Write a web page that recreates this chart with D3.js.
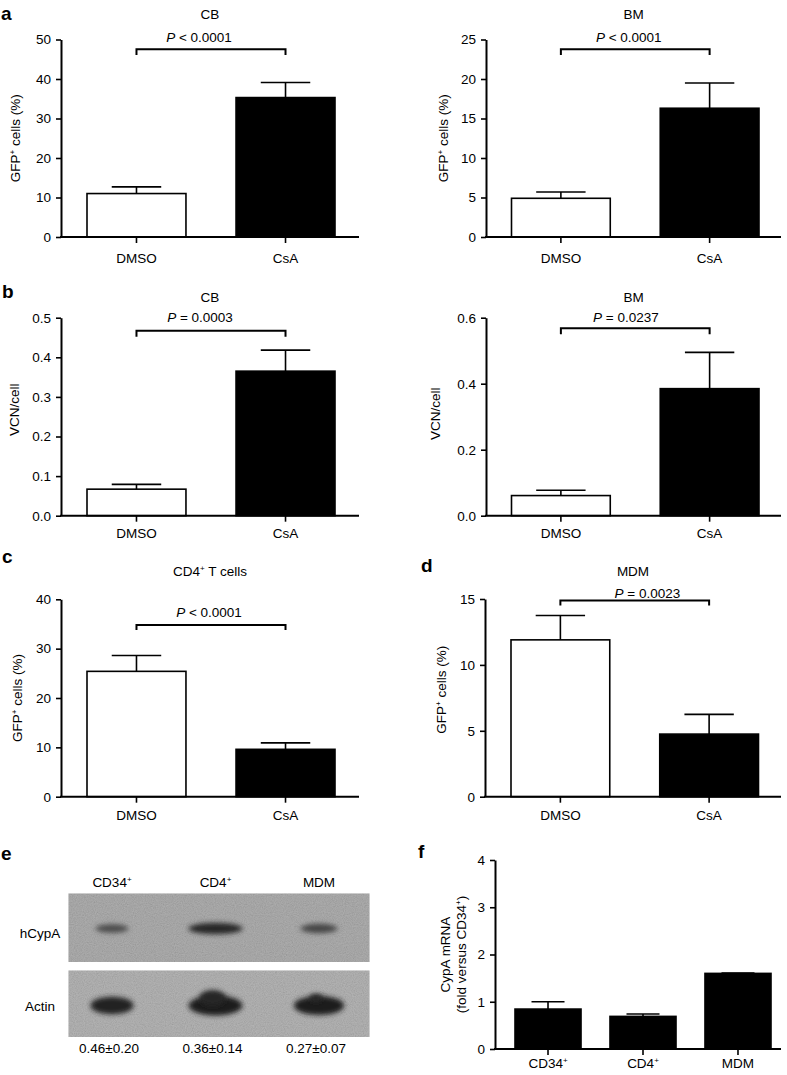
<!DOCTYPE html>
<html><head><meta charset="utf-8">
<script src="https://cdn.jsdelivr.net/npm/d3@7"></script>
<style>
body{margin:0;background:#fff}
svg{display:block;font-family:"Liberation Sans",Arial,Helvetica,sans-serif}
</style></head><body>
<svg id="fig" width="787" height="1075"></svg>
<script>
// ---------------- DATA ----------------
const treatments = ["DMSO", "CsA"];
const cbGFPMean = [11.0, 35.3];   const cbGFPSem = [1.7, 3.8];
const bmGFPMean = [4.9, 16.3];    const bmGFPSem = [0.8, 3.2];
const cbVCNMean = [0.067, 0.365]; const cbVCNSem = [0.012, 0.053];
const bmVCNMean = [0.061, 0.385]; const bmVCNSem = [0.016, 0.11];
const cd4GFPMean = [25.4, 9.6];   const cd4GFPSem = [3.2, 1.3];
const mdmGFPMean = [11.9, 4.75];  const mdmGFPSem = [1.85, 1.5];
const cellTypes = ["CD34^+", "CD4^+", "MDM"];
const cypaMRNAMean = [0.845, 0.69, 1.6]; const cypaMRNASem = [0.155, 0.05, 0.01];
const blotQuant = ["0.46±0.20", "0.36±0.14", "0.27±0.07"];
const hCypASignal = [0.45, 1.0, 0.55];
const actinSignal = [0.72, 1.0, 0.9];
const actinShoulder = [0, 1, 0.5];
const ticksCbGFP = [0, 10, 20, 30, 40, 50];
const ticksBmGFP = [0, 5, 10, 15, 20, 25];
const ticksCbVCN = [0, 0.1, 0.2, 0.3, 0.4, 0.5];
const ticksBmVCN = [0, 0.2, 0.4, 0.6];
const ticksCd4 = [0, 10, 20, 30, 40];
const ticksMdm = [0, 5, 10, 15];
const ticksCypA = [0, 1, 2, 3, 4];
const pLabels = ["< 0.0001", "< 0.0001", "= 0.0003", "= 0.0237", "< 0.0001", "= 0.0023"];

// ---------------- HELPERS ----------------
const svg = d3.select("#fig");
const FS = 13.5;

function rich(t, s) {
  const re = /\^(.)/g; let last = 0, m; const segs = [];
  while ((m = re.exec(s))) {
    if (m.index > last) segs.push({t: s.slice(last, m.index), sup: false});
    segs.push({t: m[1], sup: true}); last = re.lastIndex;
  }
  if (last < s.length) segs.push({t: s.slice(last), sup: false});
  let shifted = false;
  segs.forEach(sg => {
    const ts = t.append("tspan").text(sg.t);
    if (sg.sup) { ts.attr("dy", -5).attr("font-size", "0.6em"); shifted = true; }
    else if (shifted) { ts.attr("dy", 5); shifted = false; }
  });
  return t;
}

function letter(l, x, y) {
  svg.append("text").attr("x", x).attr("y", y).attr("font-size", 19)
    .attr("font-weight", "bold").text(l);
}

function barPanel(c) {
  const g = svg.append("g");
  const y = d3.scaleLinear().domain([0, c.max]).range([c.yBot, c.yTop]);
  const x = d3.scaleBand().domain(c.cats).range([c.x0 + c.bandL, c.x0 + c.bandR])
    .paddingInner(c.pad).paddingOuter(0);
  const bw = x.bandwidth();
  g.selectAll("rect.bar").data(c.cats).join("rect").attr("class", "bar")
    .attr("x", d => x(d)).attr("y", (d, i) => y(c.mean[i]))
    .attr("width", bw).attr("height", (d, i) => y(0) - y(c.mean[i]))
    .attr("fill", (d, i) => c.fills[i]).attr("stroke", "#000").attr("stroke-width", 1.6);
  const eb = g.selectAll("g.eb").data(c.cats).join("g").attr("class", "eb")
    .attr("stroke", "#000").attr("stroke-width", 1.6);
  eb.append("line").attr("x1", d => x(d) + bw / 2).attr("x2", d => x(d) + bw / 2)
    .attr("y1", (d, i) => y(c.mean[i])).attr("y2", (d, i) => y(c.mean[i] + c.sem[i]));
  eb.append("line").attr("x1", d => x(d) + bw / 4).attr("x2", d => x(d) + 3 * bw / 4)
    .attr("y1", (d, i) => y(c.mean[i] + c.sem[i])).attr("y2", (d, i) => y(c.mean[i] + c.sem[i]));
  const ya = g.append("g").attr("transform", `translate(${c.x0},0)`)
    .call(d3.axisLeft(y).tickValues(c.ticks).tickFormat(c.fmt).tickSize(5).tickPadding(5).tickSizeOuter(0));
  ya.select(".domain").attr("stroke-width", 2);
  ya.selectAll(".tick line").attr("stroke-width", 1.6);
  ya.selectAll("text").attr("font-size", FS).attr("font-family", null).attr("fill", "#000");
  g.append("line").attr("x1", c.x0 - 1).attr("x2", c.x1).attr("y1", y(0)).attr("y2", y(0))
    .attr("stroke", "#000").attr("stroke-width", 2);
  const xa = g.append("g").attr("transform", `translate(0,${y(0)})`)
    .call(d3.axisBottom(x).tickSize(6).tickPadding(c.xPad).tickSizeOuter(0));
  xa.select(".domain").remove();
  xa.selectAll(".tick line").attr("stroke-width", 1.6);
  xa.selectAll("text").attr("font-size", FS).attr("font-family", null).attr("fill", "#000")
    .text(null).each(function(d) { rich(d3.select(this), d); });
  const yc = (c.yTop + c.yBot) / 2 + (c.ylabDy || 0);
  c.ylabel.forEach((lab, k) => {
    const t = g.append("text").attr("transform", `translate(${c.ylabX[k]},${yc}) rotate(-90)`)
      .attr("text-anchor", "middle").attr("font-size", FS);
    rich(t, lab);
  });
  if (c.title) {
    const t = g.append("text").attr("x", (c.x0 + c.x1) / 2).attr("y", c.titleY)
      .attr("text-anchor", "middle").attr("font-size", FS);
    rich(t, c.title);
  }
  if (c.p) {
    const xa0 = x(c.cats[0]) + bw / 2, xa1 = x(c.cats[1]) + bw / 2;
    g.append("path").attr("d", d3.line()([[xa0, c.brBot], [xa0, c.brTop], [xa1, c.brTop], [xa1, c.brBot]]))
      .attr("fill", "none").attr("stroke", "#000").attr("stroke-width", 2);
    const t = g.append("text").attr("x", (xa0 + xa1) / 2 + c.pDx).attr("y", c.pY)
      .attr("text-anchor", "middle").attr("font-size", FS);
    t.append("tspan").attr("font-style", "italic").text("P");
    t.append("tspan").text(" " + c.p);
  }
}

const wb = ["#fff", "#000"];
const f0 = d3.format("d"), f1 = d3.format(".1f");

barPanel({cats: treatments, mean: cbGFPMean, sem: cbGFPSem, fills: wb, max: 50, ticks: ticksCbGFP, fmt: f0,
  x0: 61, x1: 359, yTop: 39.5, yBot: 237, bandL: 26, bandR: 274, pad: 0.336, xPad: 10,
  ylabel: ["GFP^+ cells (%)"], ylabX: [20], title: "CB", titleY: 18.5,
  p: pLabels[0], pY: 41.7, pDx: -12, brTop: 49.3, brBot: 55});
barPanel({cats: treatments, mean: bmGFPMean, sem: bmGFPSem, fills: wb, max: 25, ticks: ticksBmGFP, fmt: f0,
  x0: 486, x1: 781, yTop: 39.5, yBot: 237, bandL: 25.5, bandR: 273, pad: 0.336, xPad: 10,
  ylabel: ["GFP^+ cells (%)"], ylabX: [447.5], title: "BM", titleY: 18.5,
  p: pLabels[1], pY: 41.7, pDx: -6.5, brTop: 49.3, brBot: 55});
barPanel({cats: treatments, mean: cbVCNMean, sem: cbVCNSem, fills: wb, max: 0.5, ticks: ticksCbVCN, fmt: f1,
  x0: 61, x1: 359, yTop: 317.7, yBot: 515.7, bandL: 26, bandR: 274, pad: 0.336, xPad: 7,
  ylabel: ["VCN/cell"], ylabX: [18.5], ylabDy: -7, title: "CB", titleY: 301.7,
  p: pLabels[2], pY: 322, pDx: -11, brTop: 330.7, brBot: 336.7});
barPanel({cats: treatments, mean: bmVCNMean, sem: bmVCNSem, fills: wb, max: 0.6, ticks: ticksBmVCN, fmt: f1,
  x0: 486, x1: 781, yTop: 317.7, yBot: 515.7, bandL: 25.5, bandR: 273, pad: 0.336, xPad: 7,
  ylabel: ["VCN/cell"], ylabX: [439.5], ylabDy: -3, title: "BM", titleY: 301.7,
  p: pLabels[3], pY: 322, pDx: -9.3, brTop: 328.3, brBot: 334.3});
barPanel({cats: treatments, mean: cd4GFPMean, sem: cd4GFPSem, fills: wb, max: 40, ticks: ticksCd4, fmt: f0,
  x0: 61, x1: 359, yTop: 599.3, yBot: 796.7, bandL: 26, bandR: 274, pad: 0.336, xPad: 8,
  ylabel: ["GFP^+ cells (%)"], ylabX: [22], title: "CD4^+ T cells", titleY: 576,
  p: pLabels[4], pY: 616.7, pDx: -2, brTop: 625, brBot: 630});
barPanel({cats: treatments, mean: mdmGFPMean, sem: mdmGFPSem, fills: wb, max: 15, ticks: ticksMdm, fmt: f0,
  x0: 485, x1: 781, yTop: 599, yBot: 796.7, bandL: 26, bandR: 273.5, pad: 0.336, xPad: 8,
  ylabel: ["GFP^+ cells (%)"], ylabX: [446], ylabDy: -8, title: "MDM", titleY: 576,
  p: pLabels[5], pY: 598, pDx: 12.7, brTop: 600.5, brBot: 605.5});
barPanel({cats: cellTypes, mean: cypaMRNAMean, sem: cypaMRNASem, fills: ["#000", "#000", "#000"], max: 4, ticks: ticksCypA, fmt: f0,
  x0: 495, x1: 781, yTop: 860, yBot: 1049, bandL: 20, bandR: 276, pad: 0.305, xPad: 3,
  ylabel: ["CypA mRNA", "(fold versus CD34^+)"], ylabX: [450, 466]});

letter("a", 1, 20); letter("b", 2, 298); letter("c", 2, 563);
letter("d", 421, 572); letter("e", 1, 860); letter("f", 418, 858);

// ---------------- WESTERN BLOT (panel e) ----------------
const defs = svg.append("defs");
const grain = defs.append("filter").attr("id", "grain").attr("x", 0).attr("y", 0).attr("width", "100%").attr("height", "100%");
grain.append("feTurbulence").attr("type", "fractalNoise").attr("baseFrequency", 0.9).attr("numOctaves", 2).attr("seed", 4);
grain.append("feColorMatrix").attr("type", "saturate").attr("values", 0);
const ct = grain.append("feComponentTransfer");
ct.append("feFuncA").attr("type", "linear").attr("slope", 0).attr("intercept", 0.22);
grain.append("feComposite").attr("in2", "SourceGraphic").attr("operator", "in");
defs.append("filter").attr("id", "blur").attr("x", "-50%").attr("y", "-100%").attr("width", "200%").attr("height", "300%")
  .append("feGaussianBlur").attr("stdDeviation", 2.6);

const lanes = cellTypes;
const laneX = d3.scalePoint().domain(lanes).range([112, 319]);
const blotPanels = [
  {name: "hCypA", y: 893.5, h: 68.5, bg: "#9e9e9e", signal: hCypASignal, bandY: 928.5,
   rx: d3.scaleLinear([0, 1], [8, 27]), ry: d3.scaleLinear([0, 1], [3.2, 5.8]),
   col: d3.scaleLinear([0, 1], ["#6a6a6a", "#272727"]), labY: 938},
  {name: "Actin", y: 970.5, h: 66.5, bg: "#a6a6a6", signal: actinSignal, bandY: 1005.5,
   rx: d3.scaleLinear([0, 1], [8, 27]), ry: d3.scaleLinear([0, 1], [5.5, 10]),
   col: d3.scaleLinear([0, 1], ["#2a2a2a", "#1c1c1c"]), labY: 1010.7}
];
const blot = svg.append("g");
blotPanels.forEach(bp => {
  blot.append("rect").attr("x", 68.5).attr("y", bp.y).attr("width", 301).attr("height", bp.h).attr("fill", bp.bg);
  blot.append("rect").attr("x", 68.5).attr("y", bp.y).attr("width", 301).attr("height", bp.h)
    .attr("fill", "#fff").attr("filter", "url(#grain)");
  blot.selectAll(null).data(lanes).join("ellipse")
    .attr("cx", d => laneX(d)).attr("cy", bp.bandY)
    .attr("rx", (d, i) => bp.rx(bp.signal[i])).attr("ry", (d, i) => bp.ry(bp.signal[i]))
    .attr("fill", (d, i) => bp.col(bp.signal[i])).attr("filter", "url(#blur)");
  blot.append("text").attr("x", 40).attr("y", bp.labY).attr("text-anchor", "middle").attr("font-size", FS).text(bp.name);
});
// actin shoulders (upper smear of the actin band)
blot.selectAll(null).data(lanes).join("ellipse")
  .attr("cx", d => laneX(d) - 3).attr("cy", 998)
  .attr("rx", (d, i) => 13 * actinShoulder[i]).attr("ry", (d, i) => 8 * actinShoulder[i])
  .attr("fill", "#262626").attr("filter", "url(#blur)");
blot.selectAll(null).data(lanes).join("text")
  .attr("x", d => laneX(d)).attr("y", 886.7).attr("text-anchor", "middle").attr("font-size", FS)
  .each(function(d) { rich(d3.select(this), d); });
blot.selectAll(null).data(blotQuant).join("text")
  .attr("x", (d, i) => laneX(lanes[i]) - 3).attr("y", 1053).attr("text-anchor", "middle").attr("font-size", FS)
  .text(d => d);
</script>
</body></html>
